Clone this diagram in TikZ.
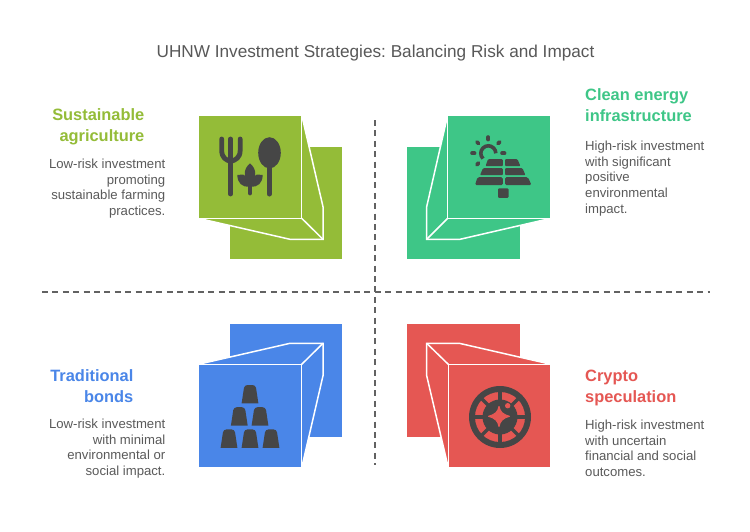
\documentclass[tikz,border=0pt]{standalone}
\usepackage{fontspec}
\setmainfont{Liberation Sans}
\frenchspacing
\definecolor{agrigreen}{HTML}{94BC38}
\definecolor{energygreen}{HTML}{3EC687}
\definecolor{bondblue}{HTML}{4A86E8}
\definecolor{cryptored}{HTML}{E55753}
\definecolor{icondark}{HTML}{464646}
\definecolor{bodygray}{HTML}{5A5A5A}
\tikzset{
	panel/.style={draw=white,line width=1.5pt,line join=miter},
	fold/.style={draw=white,line width=1.5pt},
	axisline/.style={draw=icondark!85,line width=1.3pt,dash pattern=on 6pt off 4.4pt},
	heading/.style={font=\fontsize{16.4}{21}\selectfont\bfseries,inner sep=0pt},
	bodytext/.style={font=\fontsize{13.15}{15.8}\selectfont,text=bodygray,inner sep=0pt},
	iconfill/.style={fill=icondark},
	iconline/.style={draw=icondark,line cap=round}
}
\begin{document}
\begin{tikzpicture}[x=1pt,y=-1pt]
	\useasboundingbox (0,0) rectangle (750,531);
	\fill [white] (0,0) rectangle (750,531);
	\node (title) [font=\fontsize{17.2}{21}\selectfont,text=icondark!90,inner sep=0pt] at (375.5,53) {UHNW Investment Strategies: Balancing Risk and Impact};

	\coordinate (axisN) at (375,120);
	\coordinate (axisS) at (375,465);
	\coordinate (axisW) at (42,292);
	\coordinate (axisE) at (710,292);
	\draw [axisline] (axisN) -- (axisS);
	\draw [axisline] (axisW) -- (axisE);

	\filldraw [panel,fill=agrigreen] (229.5,146) rectangle (343,260);
	\filldraw [fold,fill=agrigreen] (301.7,115) -- (323,206.7) -- (323,239.3) -- (290,239.3) -- (198.3,218.3) -- cycle;
	\filldraw [panel,fill=agrigreen] (198.3,115) rectangle (301.7,218.3);
	\draw [fold] (301.7,218.3) -- (323,239.3);
	\draw [iconline,line width=4.8pt] (221.7,139) -- (221.7,150) .. controls (221.7,158) and (226,160) .. (230.7,161.5) .. controls (235.5,160) and (240.2,158) .. (240.2,150) -- (240.2,139);
	\draw [iconline,line width=4.8pt] (230.7,139) -- (230.7,194);
	\fill [iconfill] (269.5,152.8) ellipse (11.3 and 15.6);
	\draw [iconline,line width=5pt] (269.3,160) -- (269.3,194);
	\fill [iconfill] (250,163.3) .. controls (243,169) and (243,178) .. (250,184) .. controls (257,178) and (257,169) .. (250,163.3);
	\fill [iconfill] (237.3,175) -- (243,174.5) .. controls (247,176) and (249,180) .. (249.5,186.5) .. controls (242,187.5) and (237.5,183) .. (237.3,175);
	\fill [iconfill] (262.7,175) -- (257,174.5) .. controls (253,176) and (251,180) .. (250.5,186.5) .. controls (258,187.5) and (262.5,183) .. (262.7,175);
	\draw [iconline,line width=4.8pt] (250,180) -- (250,193);

	\filldraw [panel,fill=energygreen] (406.7,146) rectangle (521,260);
	\filldraw [fold,fill=energygreen] (447.7,115) -- (426.7,206.7) -- (426.7,239.3) -- (460,239.3) -- (551,218.3) -- cycle;
	\filldraw [panel,fill=energygreen] (447.7,115) rectangle (551,218.3);
	\draw [fold] (447.7,218.3) -- (426.7,239.3);
	\draw [iconline,line width=3.6pt,line cap=butt] (483,158.6) arc (135:360:7.5);
	\foreach \a in {135,180,225,270,315,360}
		\draw [iconline,line width=3.8pt] ([shift={(488.3,153.3)}]\a:13.8) -- ([shift={(488.3,153.3)}]\a:16.2);
	\fill [iconfill,rounded corners=1pt] (488,159.2) -- (502.9,159.2) -- (502.9,166.2) -- (485.5,166.2) -- cycle;
	\fill [iconfill,rounded corners=1pt] (505,159.2) -- (517.5,159.2) -- (520.5,166.2) -- (505,166.2) -- cycle;
	\fill [iconfill,rounded corners=1pt] (483,168.2) -- (502.9,168.2) -- (502.9,175.2) -- (480,175.2) -- cycle;
	\fill [iconfill,rounded corners=1pt] (505,168.2) -- (522.5,168.2) -- (525.5,175.2) -- (505,175.2) -- cycle;
	\fill [iconfill,rounded corners=1.5pt] (477.5,177.2) -- (502.9,177.2) -- (502.9,185.2) -- (475,185.2) -- cycle;
	\fill [iconfill,rounded corners=1.5pt] (505,177.2) -- (528,177.2) -- (531.5,185.2) -- (505,185.2) -- cycle;
	\fill [iconfill,rounded corners=1pt] (498,188.3) rectangle (508.5,197.8);

	\filldraw [panel,fill=bondblue] (229.5,323.3) rectangle (343,437.3);
	\filldraw [fold,fill=bondblue] (198.3,364.3) -- (290,343.3) -- (323,343.3) -- (323,375.7) -- (301.7,467.7) -- cycle;
	\filldraw [panel,fill=bondblue] (198.3,364.3) rectangle (301.7,467.7);
	\draw [fold] (301.7,364.3) -- (323,343.3);
	\foreach \cx/\cy in {250/385,239.3/407.2,260/407.2,229/429.4,250/429.4,271/429.4}
		\fill [iconfill] (\cx-8.4,\cy+18.4) [rounded corners=3pt] -- (\cx-5.6,\cy) -- (\cx+5.6,\cy) [sharp corners] -- (\cx+8.4,\cy+18.4) -- cycle;

	\filldraw [panel,fill=cryptored] (406.7,323.3) rectangle (520.7,437.3);
	\filldraw [fold,fill=cryptored] (551,364.3) -- (459.3,343.3) -- (426.7,343.3) -- (426.7,375.7) -- (448.3,467.7) -- cycle;
	\filldraw [panel,fill=cryptored] (448.3,364.3) rectangle (551,467.7);
	\draw [fold] (448.3,364.3) -- (426.7,343.3);
	\fill [iconfill] (500,417) circle (31);
	\fill [cryptored] (500,417) circle (25);
	\fill [iconfill] (500,417) circle (17.5);
	\foreach \a in {0,45,...,315}
		\draw [icondark,line width=3.4pt] ([shift={(500,417)}]\a:16) -- ([shift={(500,417)}]\a:27);
	\filldraw [cryptored,line width=1pt,line join=round] (499,406.3) .. controls (500,412) and (503,414.5) .. (509.5,416.3) .. controls (503,418) and (500,421) .. (499,426.5) .. controls (498,421) and (495,418) .. (488.5,416.3) .. controls (495,414.5) and (498,412) .. (499,406.3);
	\fill [cryptored] (507.7,405.7) circle (2.7);

	\node (agriHead) [heading,text=agrigreen,align=right,anchor=north east] at (144.5,108.5) {Sustainable\\agriculture};
	\node (agriBody) [bodytext,align=right,anchor=north east] at (165.5,158.5) {Low-risk investment\\promoting\\sustainable farming\\practices.};
	\node (energyHead) [heading,text=energygreen,align=left,anchor=north west] at (585,88.5) {Clean energy\\infrastructure};
	\node (energyBody) [bodytext,align=left,anchor=north west] at (585,140.5) {High-risk investment\\with significant\\positive\\environmental\\impact.};
	\node (bondHead) [heading,text=bondblue,align=right,anchor=north east] at (133.5,369.5) {Traditional\\bonds};
	\node (bondBody) [bodytext,align=right,anchor=north east] at (165.5,418.5) {Low-risk investment\\with minimal\\environmental or\\social impact.};
	\node (cryptoHead) [heading,text=cryptored,align=left,anchor=north west] at (585,369.5) {Crypto\\speculation};
	\node (cryptoBody) [bodytext,align=left,anchor=north west] at (585,419.5) {High-risk investment\\with uncertain\\financial and social\\outcomes.};
\end{tikzpicture}
\end{document}
